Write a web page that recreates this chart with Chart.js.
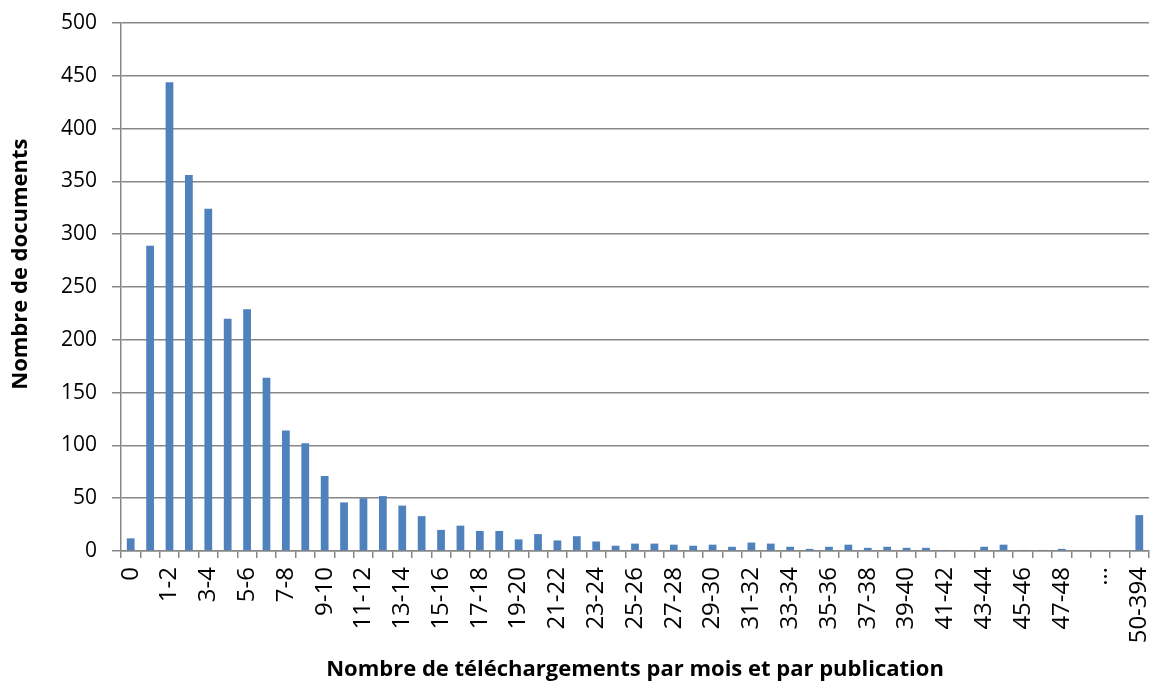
<!DOCTYPE html>
<html>
<head>
<meta charset="utf-8">
<script src="https://cdn.jsdelivr.net/npm/chart.js@4"></script>
<style>
  body { margin: 0; background: #fff; }
  #wrap { width: 1156px; height: 683px; }
</style>
</head>
<body>
<div id="wrap"><canvas id="myChart"></canvas></div>
<script>
// data
const categories = [
  "0", "0-1", "1-2", "2-3", "3-4", "4-5", "5-6", "6-7", "7-8", "8-9",
  "9-10", "10-11", "11-12", "12-13", "13-14", "14-15", "15-16", "16-17", "17-18", "18-19",
  "19-20", "20-21", "21-22", "22-23", "23-24", "24-25", "25-26", "26-27", "27-28", "28-29",
  "29-30", "30-31", "31-32", "32-33", "33-34", "34-35", "35-36", "36-37", "37-38", "38-39",
  "39-40", "40-41", "41-42", "42-43", "43-44", "44-45", "45-46", "46-47", "47-48", "48-49",
  "…", "", "50-394"
];
const documents = [
  12, 289, 444, 356, 324, 220, 229, 164, 114, 102,
  71, 46, 50, 52, 43, 33, 20, 24, 19, 19,
  11, 16, 10, 14, 9, 5, 7, 7, 6, 5,
  6, 4, 8, 7, 4, 2, 4, 6, 3, 4,
  3, 3, 1, 0, 4, 6, 1, 1, 2, 0,
  0, 0, 34
];
const yTicks = [0, 50, 100, 150, 200, 250, 300, 350, 400, 450, 500];

const gridGray = "#878787";
const fontFamily = "'Open Sans', sans-serif";

// config
const config = {
  type: "bar",
  data: {
    labels: categories,
    datasets: [
      {
        label: "Nombre de documents",
        data: documents,
        backgroundColor: "#4f81bd",
        borderColor: "#4f81bd",
        borderWidth: 0,
        barPercentage: 0.4,
        categoryPercentage: 1,
      },
    ],
  },
  options: {
    responsive: true,
    maintainAspectRatio: false,
    animation: false,
    layout: {
      padding: { top: 23, right: 7, left: 0, bottom: 0 },
    },
    scales: {
      x: {
        offset: true,
        grid: {
          offset: true,
          drawOnChartArea: false,
          drawTicks: true,
          tickLength: 7,
          color: gridGray,
          lineWidth: 1.5,
        },
        border: { color: gridGray, width: 1.5 },
        ticks: {
          autoSkip: false,
          minRotation: 90,
          maxRotation: 90,
          padding: 9,
          color: "#000",
          font: { family: fontFamily, size: 24 },
          callback: function (value, index) {
            return index % 2 === 0 ? categories[index] : "";
          },
        },
        title: {
          display: true,
          text: "Nombre de téléchargements par mois et par publication",
          color: "#000",
          font: { family: fontFamily, size: 22, weight: "bold" },
          padding: { top: 6, bottom: 0 },
        },
        afterFit: function (scale) {
          scale.height = 132;
          scale.paddingLeft = 0;
          scale.paddingRight = 0;
        },
      },
      y: {
        min: 0,
        max: 500,
        afterBuildTicks: function (scale) {
          scale.ticks = yTicks.map(function (v) { return { value: v }; });
        },
        grid: {
          color: gridGray,
          lineWidth: 1.5,
          tickLength: 9,
        },
        border: { color: gridGray, width: 1.5 },
        ticks: {
          padding: 15,
          color: "#000",
          font: { family: fontFamily, size: 21 },
        },
        title: {
          display: true,
          // leading spaces lift the title a little above the plot centre, as in the original
          text: "        Nombre de documents",
          color: "#000",
          font: { family: fontFamily, size: 22, weight: "bold" },
          padding: { top: 8, bottom: 0 },
        },
        afterFit: function (scale) {
          scale.width = 121;
          scale.paddingTop = 0;
          scale.paddingBottom = 0;
        },
      },
    },
    plugins: {
      legend: { display: false },
      tooltip: { enabled: false },
    },
  },
};

// render
const myChart = new Chart(document.getElementById("myChart"), config);
</script>
</body>
</html>
